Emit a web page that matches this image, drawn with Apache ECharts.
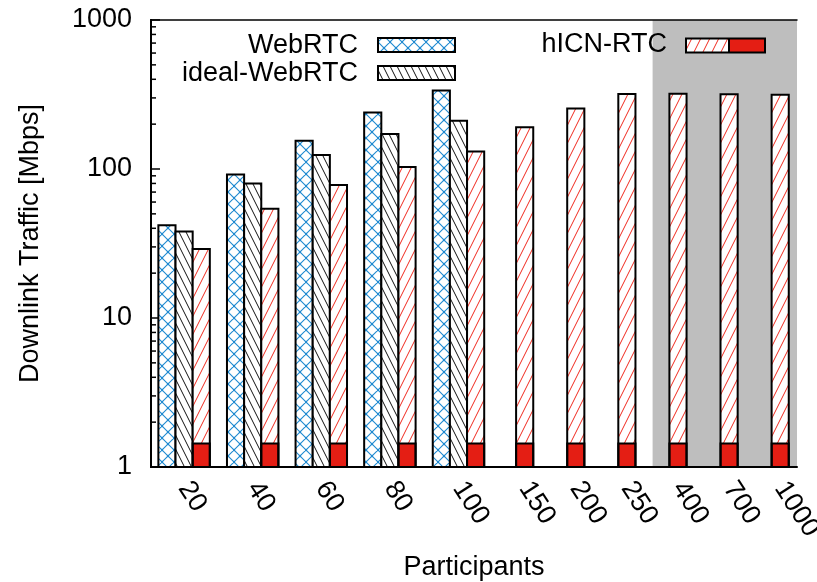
<!DOCTYPE html>
<html><head><meta charset="utf-8">
<script src="https://cdn.jsdelivr.net/npm/echarts@6/dist/echarts.min.js"></script>
<style>html,body{margin:0;padding:0;background:#fff;overflow:hidden}#c{width:817px;height:582px}</style>
</head><body><div id="c"></div>
<script>
// ---- data ----
const categories = ['20', '40', '60', '80', '100', '150', '200', '250', '400', '700', '1000'];
const webrtc = [42, 92, 155, 239, 337];
const idealWebrtc = [38, 80, 124, 172, 211];
const hicnRtc = [29, 54, 78, 103, 131, 191, 255, 319, 320, 318, 315];
const hicnBase = [1.44, 1.44, 1.44, 1.44, 1.44, 1.44, 1.44, 1.44, 1.44, 1.44, 1.44];
const yMajorTicks = [1, 10, 100, 1000];
const yMinorTicks = [2, 3, 4, 5, 6, 7, 8, 9, 20, 30, 40, 50, 60, 70, 80, 90, 200, 300, 400, 500, 600, 700, 800, 900];
const legendNames = ['WebRTC', 'ideal-WebRTC', 'hICN-RTC'];

// ---- layout (x in bar-width slots) ----
const X_MAX = 37.67;
const SHADE_FROM = 29.25;
function groupCenter(i) { return i < 5 ? 1.93 + 4 * i : 21.79 + 2.98 * (i - 5); }
function barPos(i, s) { return i < 5 ? groupCenter(i) + s : groupCenter(i); }

// ---- patterns ----
function tile(w, h, draw) {
  const c = document.createElement('canvas'); c.width = w; c.height = h;
  const ctx = c.getContext('2d'); draw(ctx, w, h); return c;
}
const blueCross = tile(12, 12, (ctx, w, h) => {
  ctx.strokeStyle = '#1f8ad0'; ctx.lineWidth = 1.1; ctx.beginPath();
  for (let k = -1; k <= 1; k++) {
    ctx.moveTo(k * w, 0); ctx.lineTo(k * w + w, h);
    ctx.moveTo(k * w, h); ctx.lineTo(k * w + w, 0);
  }
  ctx.stroke();
  ctx.fillStyle = '#1f8ad0';
  [[w / 2, h / 2], [0, 0], [w, 0], [0, h], [w, h]].forEach(p => { ctx.beginPath(); ctx.arc(p[0], p[1], 1.2, 0, Math.PI * 2); ctx.fill(); });
});
const blackHatch = tile(7, 14, (ctx, w, h) => {
  ctx.strokeStyle = '#111'; ctx.lineWidth = 1; ctx.beginPath();
  for (let k = -1; k <= 1; k++) { ctx.moveTo(k * w, 0); ctx.lineTo(k * w + w, h); }
  ctx.stroke();
});
const redHatch = tile(9, 18, (ctx, w, h) => {
  ctx.strokeStyle = '#f02a1e'; ctx.lineWidth = 1; ctx.beginPath();
  for (let k = -1; k <= 1; k++) { ctx.moveTo(k * w, h); ctx.lineTo(k * w + w, 0); }
  ctx.stroke();
});
const pat = c => ({ image: c, repeat: 'repeat' });
const RED = '#e41e14';
const FONT = "'Liberation Sans', Arial, sans-serif";
const FS = 27;

function simpleBar(pattern) {
  return function (params, api) {
    const x = api.value(0), v = api.value(1);
    const a = api.coord([x - 0.5, 1]), b = api.coord([x + 0.5, v]);
    const shape = { x: a[0], y: b[1], width: b[0] - a[0], height: a[1] - b[1] };
    return { type: 'group', children: [
      { type: 'rect', shape, style: { fill: '#fff' } },
      { type: 'rect', shape, style: { fill: pat(pattern) } },
      { type: 'rect', shape, style: { fill: 'none', stroke: '#000', lineWidth: 2 } }
    ] };
  };
}
function hicnBar(params, api) {
  const x = api.value(0), v = api.value(1), base = api.value(2);
  const a = api.coord([x - 0.5, 1]), b = api.coord([x + 0.5, v]), m = api.coord([x, base]);
  const shape = { x: a[0], y: b[1], width: b[0] - a[0], height: a[1] - b[1] };
  return { type: 'group', children: [
    { type: 'rect', shape, style: { fill: '#fff' } },
    { type: 'rect', shape, style: { fill: pat(redHatch) } },
    { type: 'rect', shape: { x: a[0], y: m[1], width: b[0] - a[0], height: a[1] - m[1] }, style: { fill: RED, stroke: '#000', lineWidth: 2 } },
    { type: 'rect', shape, style: { fill: 'none', stroke: '#000', lineWidth: 2 } }
  ] };
}

const labelCenters = categories.map((c, i) => groupCenter(i));
function labelFor(v) {
  let best = 0;
  labelCenters.forEach((c, i) => { if (Math.abs(c - v) < Math.abs(labelCenters[best] - v)) best = i; });
  return categories[best];
}

const chart = echarts.init(document.getElementById('c'), null, { renderer: 'canvas' });
const option = {
  animation: false,
  textStyle: { fontFamily: FONT },
  grid: { left: 151, right: 20, top: 20, bottom: 115, containLabel: false, outerBoundsMode: 'none' },
  xAxis: [{
    type: 'value', min: 0, max: X_MAX,
    name: 'Participants', nameLocation: 'middle', nameGap: 87,
    nameTextStyle: { fontSize: FS, color: '#000', fontFamily: FONT },
    splitLine: { show: false },
    axisLine: { show: true, lineStyle: { color: '#000', width: 2 } },
    axisTick: { show: false },
    axisLabel: { customValues: labelCenters, formatter: v => labelFor(v), rotate: -57, margin: 17,
      fontSize: FS, color: '#000', fontFamily: FONT }
  }, {
    type: 'value', min: 0, max: X_MAX, position: 'top',
    splitLine: { show: false }, axisTick: { show: false }, axisLabel: { show: false },
    axisLine: { show: true, lineStyle: { color: '#000', width: 1.5 } }
  }],
  yAxis: [{
    type: 'log', logBase: 10, min: 1, max: 1000,
    name: 'Downlink Traffic [Mbps]', nameLocation: 'middle', nameGap: 107,
    nameTextStyle: { fontSize: FS, color: '#000', fontFamily: FONT },
    splitLine: { show: false },
    axisLine: { show: true, lineStyle: { color: '#000', width: 2 } },
    axisTick: { show: true, inside: true, length: 9, lineStyle: { color: '#000', width: 1.5 } },
    axisLabel: { fontSize: FS, color: '#000', margin: 19, fontFamily: FONT,
      formatter: v => yMajorTicks.includes(Math.round(v)) ? String(Math.round(v)) : '' }
  }, {
    type: 'log', logBase: 10, min: 1, max: 1000, position: 'right',
    splitLine: { show: false }, axisTick: { show: false }, axisLabel: { show: false },
    axisLine: { show: true, lineStyle: { color: '#000', width: 2 } }
  }],
  series: [
    {
      type: 'custom', name: 'shade', z: -1, silent: true, clip: false,
      data: [[SHADE_FROM, X_MAX]],
      renderItem: (params, api) => {
        const a = api.coord([api.value(0), 1000]), b = api.coord([api.value(1), 1]);
        return { type: 'rect', shape: { x: a[0], y: a[1], width: b[0] - a[0], height: b[1] - a[1] }, style: { fill: '#bebebe' } };
      }
    },
    {
      type: 'custom', name: 'minorTicks', silent: true, z: 5,
      data: yMinorTicks.map(v => [0, v]),
      renderItem: (params, api) => {
        const p = api.coord([0, api.value(1)]);
        return { type: 'line', shape: { x1: p[0], y1: p[1], x2: p[0] + 5, y2: p[1] }, style: { stroke: '#000', lineWidth: 1.5 } };
      }
    },
    {
      type: 'custom', name: legendNames[0], z: 3,
      data: webrtc.map((v, i) => [barPos(i, -1), v]),
      renderItem: simpleBar(blueCross)
    },
    {
      type: 'custom', name: legendNames[1], z: 3,
      data: idealWebrtc.map((v, i) => [barPos(i, 0), v]),
      renderItem: simpleBar(blackHatch)
    },
    {
      type: 'custom', name: legendNames[2], z: 3,
      data: hicnRtc.map((v, i) => [barPos(i, 1), v, hicnBase[i]]),
      renderItem: hicnBar
    }
  ],
  graphic: [
    { type: 'text', x: 358, y: 45.5, style: { text: legendNames[0], font: FS + 'px ' + FONT, fill: '#000', align: 'right', verticalAlign: 'middle' } },
    { type: 'rect', shape: { x: 378, y: 38, width: 77, height: 14 }, style: { fill: '#fff', stroke: null } },
    { type: 'rect', shape: { x: 378, y: 38, width: 77, height: 14 }, style: { fill: pat(blueCross), stroke: '#000', lineWidth: 2 } },
    { type: 'text', x: 358, y: 73.5, style: { text: legendNames[1], font: FS + 'px ' + FONT, fill: '#000', align: 'right', verticalAlign: 'middle' } },
    { type: 'rect', shape: { x: 378, y: 66, width: 77, height: 14 }, style: { fill: '#fff' } },
    { type: 'rect', shape: { x: 378, y: 66, width: 77, height: 14 }, style: { fill: pat(blackHatch), stroke: '#000', lineWidth: 2 } },
    { type: 'text', z: 10, x: 667, y: 45, style: { text: legendNames[2], font: FS + 'px ' + FONT, fill: '#000', align: 'right', verticalAlign: 'middle' } },
    { type: 'rect', z: 10, shape: { x: 686, y: 38.5, width: 79, height: 14 }, style: { fill: '#fff' } },
    { type: 'rect', z: 10, shape: { x: 686, y: 38.5, width: 43, height: 14 }, style: { fill: pat(redHatch) } },
    { type: 'rect', z: 10, shape: { x: 729, y: 38.5, width: 36, height: 14 }, style: { fill: RED } },
    { type: 'rect', z: 10, shape: { x: 686, y: 38.5, width: 79, height: 14 }, style: { fill: 'none', stroke: '#000', lineWidth: 2 } },
    { type: 'line', z: 10, shape: { x1: 729, y1: 38.5, x2: 729, y2: 52.5 }, style: { stroke: '#000', lineWidth: 2 } }
  ]
};
chart.setOption(option);
</script>
</body></html>
